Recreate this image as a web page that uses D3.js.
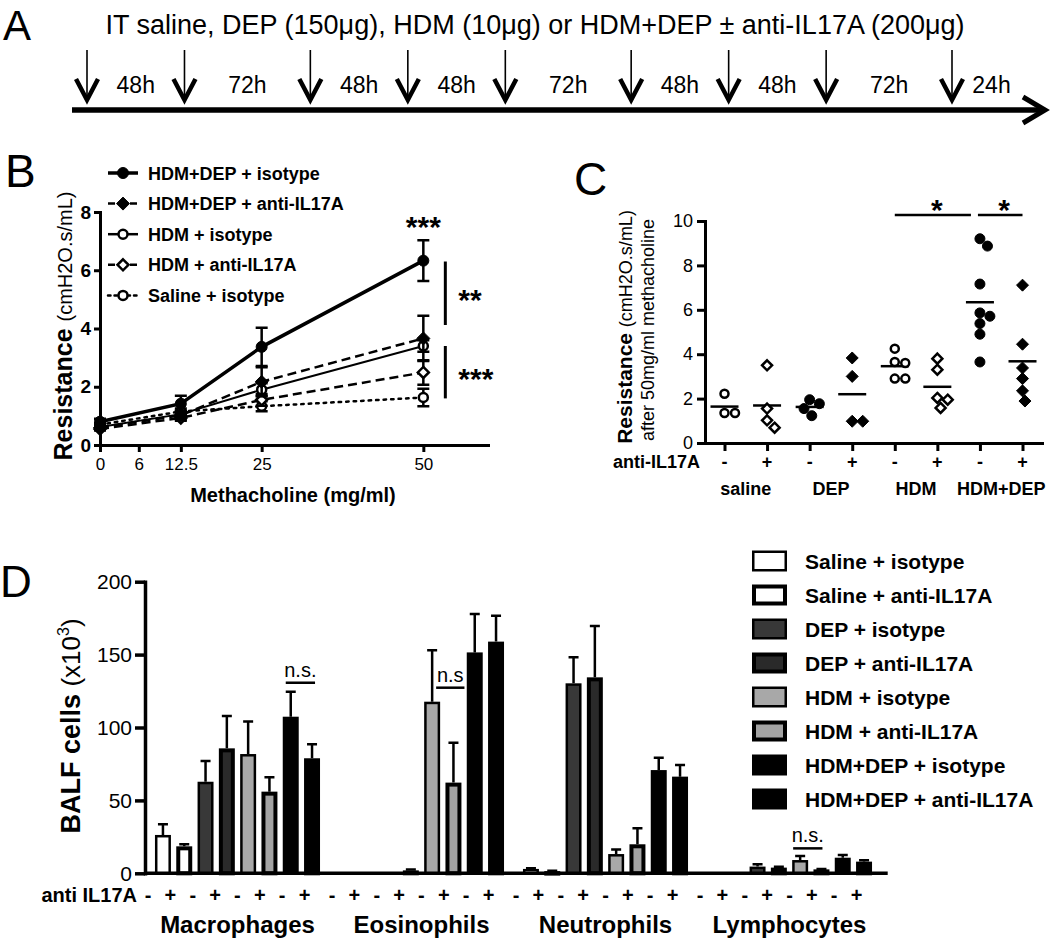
<!DOCTYPE html>
<html><head><meta charset="utf-8">
<script src="https://cdn.jsdelivr.net/npm/d3@7"></script>
<style>
body{margin:0;background:#fff;}
svg{display:block;}
</style></head><body>
<svg id="fig" width="1050" height="938"></svg>
<script>
// ================= DATA =================
// Panel A – dosing timeline
const timelineTitle = "IT saline, DEP (150μg), HDM (10μg) or HDM+DEP ± anti-IL17A (200μg)";
const doseHours = [0, 48, 120, 168, 216, 288, 336, 384, 456];
const endHour = 480;
const intervalLabels = ["48h","72h","48h","48h","72h","48h","48h","72h","24h"];

// Panel B – resistance vs methacholine (mean ± SEM)
const methDoses = [0, 12.5, 25, 50];
const methTicks = [0, 6, 12.5, 25, 50];
const resTicksB = [0, 2, 4, 6, 8];
const seriesNamesB = ["HDM+DEP + isotype","HDM+DEP + anti-IL17A","HDM + isotype","HDM + anti-IL17A","Saline + isotype"];
const hdmDepIsoB = [0.80, 1.42, 3.37, 6.33];
const hdmDepIsoSemB = [0.10, 0.27, 0.66, 0.70];
const hdmDepAntiB = [0.60, 1.02, 2.17, 3.66];
const hdmDepAntiSemB = [0.08, 0.15, 0.50, 0.78];
const hdmIsoB = [0.62, 1.06, 1.90, 3.40];
const hdmIsoSemB = [0.06, 0.12, 0.22, 0.20];
const hdmAntiB = [0.55, 0.93, 1.55, 2.49];
const hdmAntiSemB = [0.05, 0.10, 0.20, 0.42];
const salineIsoB = [0.70, 1.15, 1.33, 1.63];
const salineIsoSemB = [0.05, 0.10, 0.17, 0.30];

// Panel C – resistance at 50 mg/ml (individual animals)
const groupsC = ["saline","DEP","HDM","HDM+DEP"];
const treatC = ["-","+","-","+","-","+","-","+"];
const resTicksC = [0, 2, 4, 6, 8, 10];
const salineIsoC = [2.22, 1.35, 1.35];
const salineAntiC = [3.50, 1.55, 1.02, 0.69];
const depIsoC = [1.95, 1.77, 1.55, 1.23];
const depAntiC = [3.83, 3.00, 0.98, 0.98];
const hdmIsoC = [4.25, 3.65, 3.60, 2.90, 2.90];
const hdmAntiC = [3.80, 3.30, 2.03, 1.95, 1.58];
const hdmDepIsoC = [9.20, 8.87, 7.16, 5.86, 5.71, 5.38, 4.90, 3.65];
const hdmDepAntiC = [7.11, 4.45, 3.38, 2.90, 2.35, 1.89];

// Panel D – BALF cells (x10^3, mean ± SEM)
const cellTypes = ["Macrophages","Eosinophils","Neutrophils","Lymphocytes"];
const groupsD = ["Saline + isotype","Saline + anti-IL17A","DEP + isotype","DEP + anti-IL17A","HDM + isotype","HDM + anti-IL17A","HDM+DEP + isotype","HDM+DEP + anti-IL17A"];
const treatD = ["-","+","-","+","-","+","-","+"];
const cellTicksD = [0, 50, 100, 150, 200];
const macrophageMean = [26.3, 18.5, 62.8, 85.7, 81.8, 56.0, 107.4, 78.9];
const macrophageSem  = [7.3, 1.4, 14.2, 22.2, 22.4, 9.8, 17.2, 9.6];
const eosinophilMean = [0, 0, 0, 2.0, 117.7, 62.2, 151.5, 158.9];
const eosinophilSem  = [0, 0, 0, 0.6, 35.3, 27.4, 26.3, 17.8];
const neutrophilMean = [3.0, 1.5, 130.3, 134.4, 13.2, 19.9, 70.8, 66.3];
const neutrophilSem  = [0.5, 0.3, 17.8, 35.2, 3.2, 11.0, 8.5, 8.0];
const lymphocyteMean = [0, 0, 4.6, 3.9, 9.1, 2.7, 10.7, 8.0];
const lymphocyteSem  = [0, 0, 1.6, 0.6, 2.8, 0.3, 1.9, 1.0];

// ================= DRAW =================
const FONT = "Arial, 'Liberation Sans', Helvetica, sans-serif";
const svg = d3.select("#fig").attr("font-family", FONT);
svg.append("rect").attr("width",1050).attr("height",938).attr("fill","#fff");

function styleAxis(ax, w, fs, bold) {
  ax.attr("font-family", FONT).attr("font-size", fs);
  ax.select(".domain").attr("stroke-width", w).attr("stroke-linecap","square");
  ax.selectAll(".tick line").attr("stroke-width", w);
  ax.selectAll(".tick text").attr("font-weight", bold ? "bold" : "normal").attr("fill","#000");
}
function drawMarker(g, sym, filled, x, y, rC, hD) {
  if (sym === "circle") {
    g.append("circle").attr("cx", x).attr("cy", y)
      .attr("r", filled ? rC : rC - 1)
      .attr("fill", filled ? "#000" : "#fff")
      .attr("stroke", "#000").attr("stroke-width", filled ? 1 : 2.5);
  } else {
    const h = filled ? hD : hD - 1;
    g.append("path").attr("d", `M${x},${y-h}L${x+h},${y}L${x},${y+h}L${x-h},${y}Z`)
      .attr("fill", filled ? "#000" : "#fff")
      .attr("stroke", "#000").attr("stroke-width", filled ? 1 : 2.5);
  }
}

// Panel letters
[["A",3,40,42],["B",5,187,46],["C",574,195,46],["D",0,597,44]].forEach(([t,x,y,fs]) =>
  svg.append("text").attr("x",x).attr("y",y).attr("font-size",fs).text(t));

// ---------- Panel A ----------
const gA = svg.append("g");
// schematic timeline: interval length drawn ∝ duration^0.63
const boundsA = doseHours.concat([endHour]);
const schem = [0];
for (let i = 1; i < boundsA.length; i++) schem.push(schem[i-1] + Math.pow(boundsA[i] - boundsA[i-1], 0.63));
const xA = d3.scaleLinear().domain([schem[0], schem[doseHours.length - 1]]).range([87, 952]);
gA.append("text").attr("x", 535).attr("y", 34).attr("text-anchor","middle")
  .attr("font-size", 27).text(timelineTitle);
gA.selectAll("line.shaft").data(doseHours).join("line").attr("class","shaft")
  .attr("x1", (d,i) => xA(schem[i])).attr("x2", (d,i) => xA(schem[i])).attr("y1", 50).attr("y2", 100)
  .attr("stroke","#000").attr("stroke-width",1.6);
gA.selectAll("path.head").data(doseHours).join("path").attr("class","head")
  .attr("d", (d,i) => { const x = xA(schem[i]); return `M${x-11},79L${x},100L${x+11},79`; })
  .attr("fill","none").attr("stroke","#000").attr("stroke-width",4.5);
gA.selectAll("text.int").data(intervalLabels).join("text").attr("class","int")
  .attr("x", (d,i) => xA((schem[i] + schem[i+1]) / 2) + (i === intervalLabels.length - 1 ? 8 : 0)).attr("y", 93)
  .attr("text-anchor","middle").attr("font-size",23).text(d => d);
gA.append("line").attr("x1", 72).attr("x2", 1042).attr("y1", 110).attr("y2", 110)
  .attr("stroke","#000").attr("stroke-width",5.5);
gA.append("path").attr("d","M1023,97L1045,110L1023,123").attr("fill","none")
  .attr("stroke","#000").attr("stroke-width",5);

// ---------- Panel B ----------
const gB = svg.append("g");
const xB = d3.scaleLinear().domain([0, 60]).range([100, 488]);
const yB = d3.scaleLinear().domain([0, 8]).range([445, 212]);
const seriesB = [
  {name: seriesNamesB[0], mean: hdmDepIsoB, sem: hdmDepIsoSemB},
  {name: seriesNamesB[1], mean: hdmDepAntiB, sem: hdmDepAntiSemB},
  {name: seriesNamesB[2], mean: hdmIsoB, sem: hdmIsoSemB},
  {name: seriesNamesB[3], mean: hdmAntiB, sem: hdmAntiSemB},
  {name: seriesNamesB[4], mean: salineIsoB, sem: salineIsoSemB}
];
const styleB = [
  {w: 3.5, dash: null, sym: "circle", fill: true},
  {w: 2.5, dash: "9,5", sym: "diamond", fill: true},
  {w: 2, dash: null, sym: "circle", fill: false},
  {w: 2.5, dash: "9,5", sym: "diamond", fill: false},
  {w: 2.5, dash: "2.5,5", sym: "circle", fill: false}
];
const axBy = gB.append("g").attr("transform","translate(100,0)")
  .call(d3.axisLeft(yB).tickValues(resTicksB).tickSize(6).tickSizeOuter(0).tickPadding(3));
styleAxis(axBy, 3, 19, true);
const axBx = gB.append("g").attr("transform","translate(0,445)")
  .call(d3.axisBottom(xB).tickValues(methTicks).tickSize(7).tickSizeOuter(0).tickPadding(6).tickFormat(d => String(d)));
styleAxis(axBx, 3, 17, false);

const lineB = d3.line().x((d,i) => xB(methDoses[i])).y(d => yB(d));
for (let s = seriesB.length - 1; s >= 0; s--) {
  const ser = seriesB[s], st = styleB[s];
  const g = gB.append("g");
  g.append("path").attr("d", lineB(ser.mean)).attr("fill","none").attr("stroke","#000")
    .attr("stroke-width", st.w).attr("stroke-dasharray", st.dash).attr("stroke-linecap", st.dash && st.dash.startsWith("2.5") ? "round" : "butt");
  ser.mean.forEach((m,i) => {
    const x = xB(methDoses[i]);
    g.append("path").attr("d", `M${x},${yB(m - ser.sem[i])}V${yB(m + ser.sem[i])}M${x-6},${yB(m + ser.sem[i])}H${x+6}M${x-6},${yB(m - ser.sem[i])}H${x+6}`)
      .attr("stroke","#000").attr("stroke-width",2.5).attr("fill","none");
  });
  ser.mean.forEach((m,i) => drawMarker(g, st.sym, st.fill, xB(methDoses[i]), yB(m), 5.5, 6.5));
}
// legend B
seriesB.forEach((ser, i) => {
  const y = 173 + i * 30.6, st = styleB[i];
  const g = gB.append("g");
  g.append("line").attr("x1",108).attr("x2",138).attr("y1",y).attr("y2",y).attr("stroke","#000")
    .attr("stroke-width", Math.max(st.w, 2.5)).attr("stroke-dasharray", st.dash ? (st.dash.startsWith("2.5") ? "2.5,4" : "7,4") : null)
    .attr("stroke-linecap", st.dash && st.dash.startsWith("2.5") ? "round" : "butt");
  drawMarker(g, st.sym, st.fill, 123, y, 5.5, 6.5);
  g.append("text").attr("x",148).attr("y",y + 6.5).attr("font-size",18).attr("font-weight","bold").text(ser.name);
});
// significance B
const lastB = methDoses.length - 1;
gB.append("text").attr("x", xB(50)).attr("y", yB(hdmDepIsoB[lastB] + hdmDepIsoSemB[lastB]) - 3)
  .attr("text-anchor","middle").attr("font-size",30).attr("font-weight","bold").text("***");
const bracketsB = [{lo: 4.12, hi: 6.30, label: "**"}, {lo: 1.60, hi: 3.40, label: "***"}];
bracketsB.forEach(b => {
  gB.append("line").attr("x1", xB(50) + 22).attr("x2", xB(50) + 22).attr("y1", yB(b.hi)).attr("y2", yB(b.lo))
    .attr("stroke","#000").attr("stroke-width",3);
  gB.append("text").attr("x", xB(50) + 35).attr("y", (yB(b.hi) + yB(b.lo)) / 2 + 17)
    .attr("font-size",30).attr("font-weight","bold").text(b.label);
});
// axis titles B
const ylabB = gB.append("text").attr("transform","translate(72,326) rotate(-90)").attr("text-anchor","middle");
ylabB.append("tspan").attr("font-size",25).attr("font-weight","bold").text("Resistance ");
ylabB.append("tspan").attr("font-size",20).text("(cmH2O.s/mL)");
gB.append("text").attr("x",293).attr("y",502).attr("text-anchor","middle").attr("font-size",20)
  .attr("font-weight","bold").text("Methacholine (mg/ml)");

// ---------- Panel C ----------
const gC = svg.append("g");
const xC = d3.scalePoint().domain(d3.range(8)).range([705, 1042]).padding(0.458);
const yC = d3.scaleLinear().domain([0, 10]).range([443, 221]);
const valuesC = [salineIsoC, salineAntiC, depIsoC, depAntiC, hdmIsoC, hdmAntiC, hdmDepIsoC, hdmDepAntiC];
const symC = ["circle","diamond","circle","diamond","circle","diamond","circle","diamond"];
const fillC = [false,false,true,true,false,false,true,true];

const axCy = gC.append("g").attr("transform","translate(705,0)")
  .call(d3.axisLeft(yC).tickValues(resTicksC).tickSize(8).tickSizeOuter(0).tickPadding(4));
styleAxis(axCy, 3, 18, false);
const axCx = gC.append("g").attr("transform","translate(0,443)")
  .call(d3.axisBottom(xC).tickSize(8).tickSizeOuter(0).tickFormat(""));
styleAxis(axCx, 3, 18, false);

function swarm(vals, D) {
  const pts = vals.map(v => ({v, y: yC(v), x: 0})).sort((a,b) => a.y - b.y);
  const placed = [];
  pts.forEach(p => {
    const cands = [0];
    placed.forEach(q => {
      const dy = Math.abs(q.y - p.y);
      if (dy < D) { const dx = Math.sqrt(D*D - dy*dy); cands.push(q.x + dx + 0.01, q.x - dx - 0.01); }
    });
    cands.sort((a,b) => (Math.abs(a) - Math.abs(b)) || (b - a));
    for (const c of cands) {
      if (placed.every(q => Math.hypot(q.x - c, q.y - p.y) >= D - 0.02)) { p.x = c; break; }
    }
    placed.push(p);
  });
  return pts;
}
valuesC.forEach((vals, i) => {
  const g = gC.append("g");
  const cx = xC(i);
  const mean = d3.mean(vals);
  g.append("line").attr("x1", cx - 14).attr("x2", cx + 14).attr("y1", yC(mean)).attr("y2", yC(mean))
    .attr("stroke","#000").attr("stroke-width",2.5);
  swarm(vals, 10.5).forEach(p => drawMarker(g, symC[i], fillC[i], cx + p.x, p.y, 5, 6));
});
gC.selectAll("text.tr").data(treatC).join("text").attr("class","tr")
  .attr("x", (d,i) => xC(i)).attr("y", 468).attr("text-anchor","middle")
  .attr("font-size",18).attr("font-weight","bold").text(d => d);
gC.append("text").attr("x",700).attr("y",468).attr("text-anchor","end").attr("font-size",18)
  .attr("font-weight","bold").text("anti-IL17A");
gC.selectAll("text.grp").data(groupsC).join("text").attr("class","grp")
  .attr("x", (d,i) => (xC(2*i) + xC(2*i+1)) / 2).attr("y", 494.5).attr("text-anchor","middle")
  .attr("font-size",18).attr("font-weight","bold").text(d => d);
// significance C
const sigC = [{a: 4, b: 6, x1off: 0, x2off: -9}, {a: 6, b: 7, x1off: -2, x2off: 0}];
sigC.forEach(s => {
  const x1 = xC(s.a) + s.x1off, x2 = xC(s.b) + s.x2off, y = yC(10.27);
  gC.append("line").attr("x1",x1).attr("x2",x2).attr("y1",y).attr("y2",y).attr("stroke","#000").attr("stroke-width",2.5);
  gC.append("text").attr("x",(x1 + x2) / 2 + 4).attr("y", y + 5).attr("text-anchor","middle")
    .attr("font-size",30).attr("font-weight","bold").text("*");
});
const ylabC = gC.append("text").attr("transform","translate(632,327) rotate(-90)").attr("text-anchor","middle");
ylabC.append("tspan").attr("font-size",21).attr("font-weight","bold").text("Resistance ");
ylabC.append("tspan").attr("font-size",18).text("(cmH2O.s/mL)");
gC.append("text").attr("transform","translate(654,330) rotate(-90)").attr("text-anchor","middle")
  .attr("font-size",18).text("after 50mg/ml methacholine");

// ---------- Panel D ----------
const gD = svg.append("g");
const meansD = [macrophageMean, eosinophilMean, neutrophilMean, lymphocyteMean];
const semsD = [macrophageSem, eosinophilSem, neutrophilSem, lymphocyteSem];
const fillD = ["#ffffff","#ffffff","#383838","#2a2a2a","#a8a8a8","#a3a3a3","#000000","#000000"];
const strokeWD = [2.5, 4, 2.5, 4, 2.5, 4, 2.5, 4];
const x0 = d3.scaleBand().domain(cellTypes).range([152.3, 874.7]).paddingInner(0.074);
const x1 = d3.scaleBand().domain(d3.range(8)).range([0, x0.bandwidth()]).paddingInner(0.25).paddingOuter(0.125);
const yD = d3.scaleLinear().domain([0, 200]).range([873.3, 581.7]);

cellTypes.forEach((ct, g) => {
  const grp = gD.append("g").attr("transform", `translate(${x0(ct)},0)`);
  meansD[g].forEach((m, i) => {
    if (m <= 0) return;
    const sw = strokeWD[i], bx = x1(i), bw = x1.bandwidth();
    const cx = bx + bw / 2;
    const s = semsD[g][i];
    if (s > 0) {
      grp.append("path").attr("d", `M${cx},${yD(m)}V${yD(m + s)}M${cx-5},${yD(m + s)}H${cx+5}`)
        .attr("stroke","#000").attr("stroke-width",2.5).attr("fill","none");
    }
    grp.append("rect").attr("x", bx + sw/2).attr("width", bw - sw)
      .attr("y", yD(m) + sw/2).attr("height", Math.max(0.5, yD(0) - yD(m) - sw/2))
      .attr("fill", fillD[i]).attr("stroke","#000").attr("stroke-width", sw);
  });
});
const axDy = gD.append("g").attr("transform","translate(145,0)")
  .call(d3.axisLeft(yD).tickValues(cellTicksD).tickSize(10).tickSizeOuter(0).tickPadding(3));
styleAxis(axDy, 3.5, 21, false);
gD.append("line").attr("x1", 145).attr("x2", x0.range()[1] + 13).attr("y1", yD(0)).attr("y2", yD(0))
  .attr("stroke","#000").attr("stroke-width",3.5);
// x labels D
cellTypes.forEach((ct, g) => {
  gD.selectAll(`text.t${g}`).data(treatD).join("text").attr("class", `t${g}`)
    .attr("x", (d,i) => x0(ct) - 4.3 + i * x1.step() * 1.05).attr("y", 902)
    .attr("text-anchor","middle").attr("font-size",20).attr("font-weight","bold").text(d => d);
});
gD.append("text").attr("x",137).attr("y",902).attr("text-anchor","end").attr("font-size",20)
  .attr("font-weight","bold").text("anti IL17A");
gD.selectAll("text.ct").data(cellTypes).join("text").attr("class","ct")
  .attr("x", d => x0(d) + x0.bandwidth() / 2).attr("y", 933).attr("text-anchor","middle")
  .attr("font-size",24).attr("font-weight","bold").text(d => d);
// n.s. annotations
const nsD = [
  {cell: "Macrophages", a: 6, b: 7, v: 130.7, label: "n.s.", off: [-5, 3]},
  {cell: "Eosinophils", a: 4, b: 5, v: 127.3, label: "n.s", off: [4, 11]},
  {cell: "Lymphocytes", a: 4, b: 5, v: 17.1, label: "n.s.", off: [-7, 1]}
];
nsD.forEach(n => {
  const xa = x0(n.cell) + x1(n.a) + x1.bandwidth()/2 + n.off[0];
  const xb = x0(n.cell) + x1(n.b) + x1.bandwidth()/2 + n.off[1];
  const y = yD(n.v);
  gD.append("line").attr("x1",xa).attr("x2",xb).attr("y1",y).attr("y2",y).attr("stroke","#000").attr("stroke-width",2.5);
  gD.append("text").attr("x",(xa + xb)/2).attr("y", y - 6).attr("text-anchor","middle").attr("font-size",20).text(n.label);
});
// y label D
const ylabD = gD.append("text").attr("transform","translate(80,726) rotate(-90)").attr("text-anchor","middle");
ylabD.append("tspan").attr("font-size",27).attr("font-weight","bold").text("BALF cells ");
ylabD.append("tspan").attr("font-size",26).text("(x10");
ylabD.append("tspan").attr("font-size",16).attr("dy",-11).text("3");
ylabD.append("tspan").attr("font-size",26).attr("dy",11).text(")");
// legend D
groupsD.forEach((name, i) => {
  const cy = 561 + i * 34, sw = strokeWD[i];
  gD.append("rect").attr("x", 752 + sw/2).attr("y", cy - 10.5 + sw/2).attr("width", 35 - sw).attr("height", 21 - sw)
    .attr("fill", fillD[i]).attr("stroke","#000").attr("stroke-width", sw);
  gD.append("text").attr("x", 805).attr("y", cy + 7.5).attr("font-size",21).attr("font-weight","bold").text(name);
});
</script>
</body></html>
